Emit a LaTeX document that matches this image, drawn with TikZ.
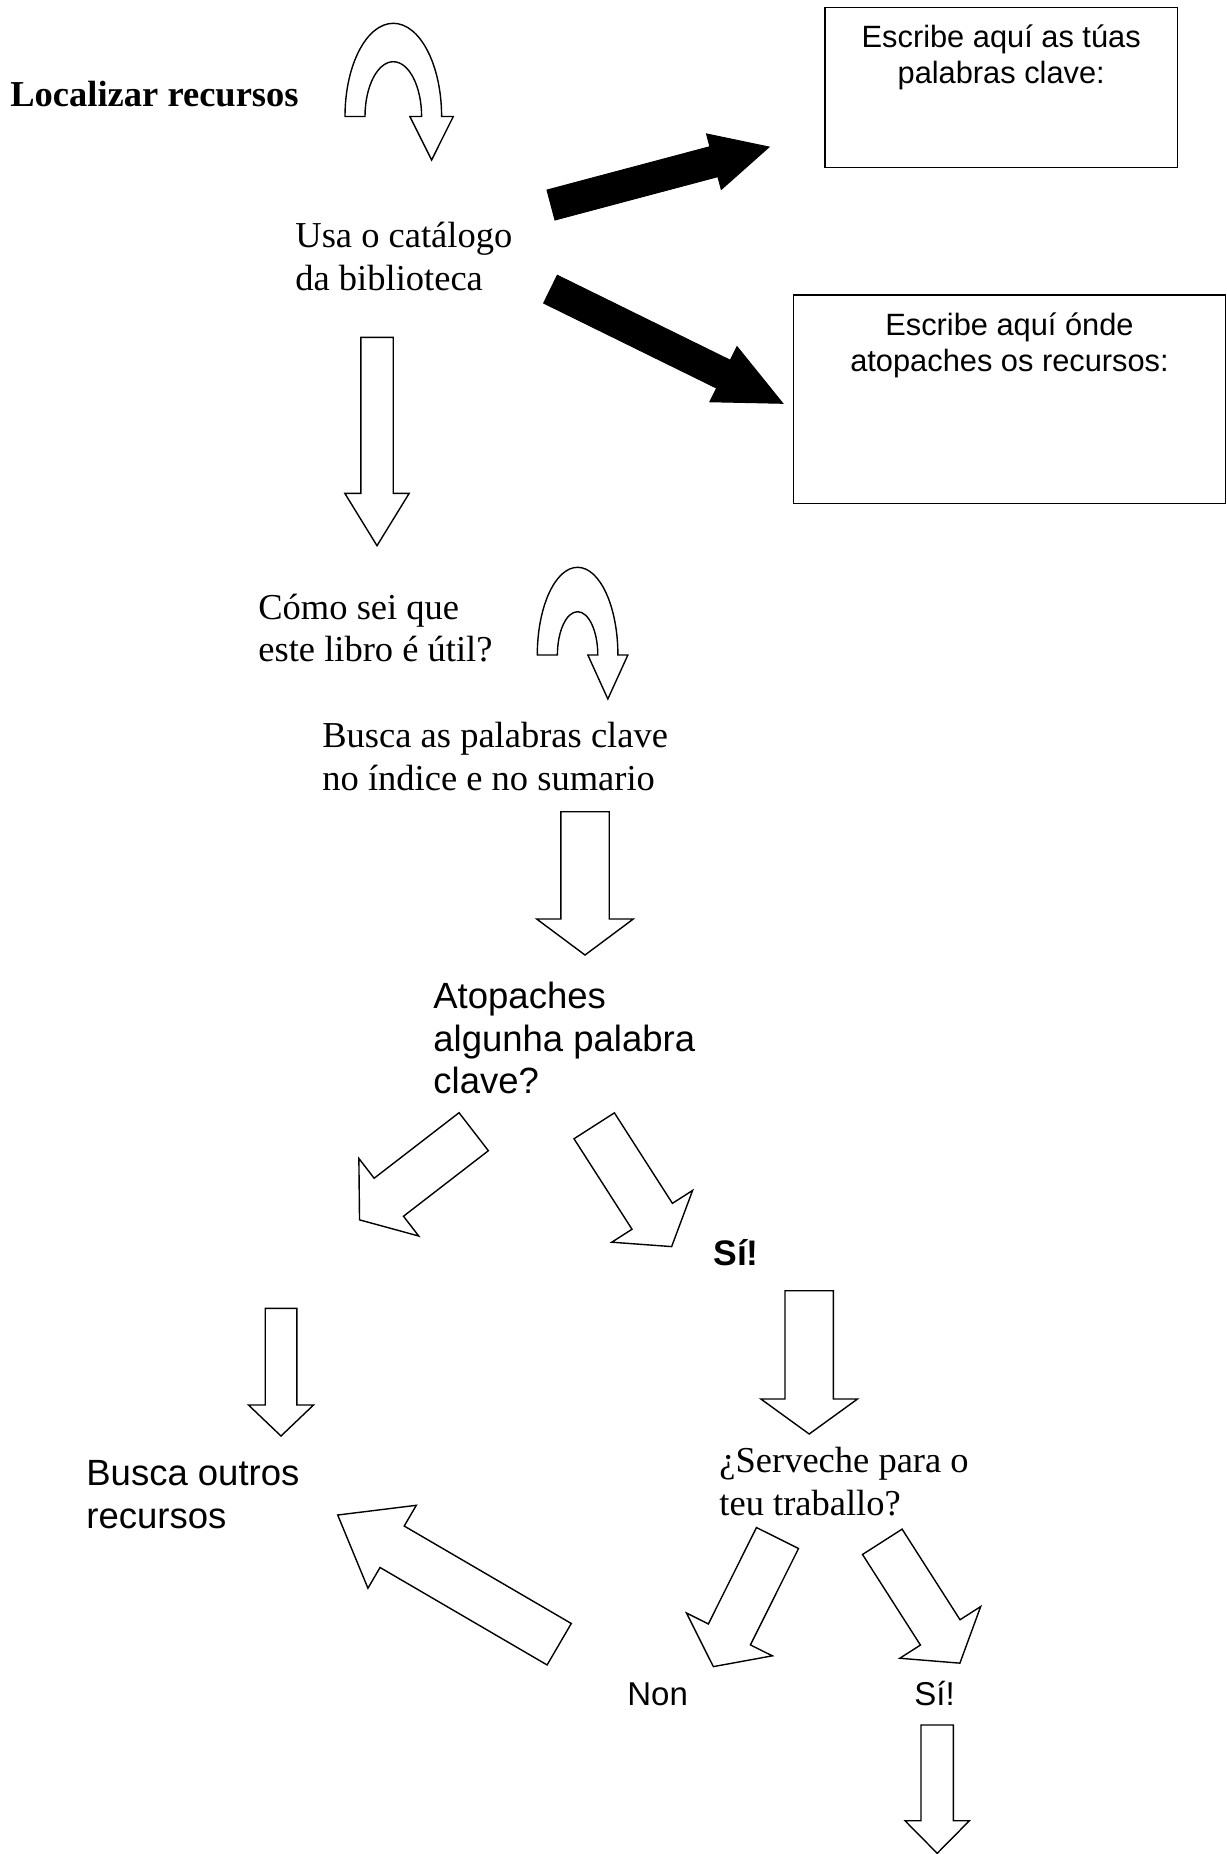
\documentclass[tikz,border=0pt]{standalone}
\usepackage{fontspec}
\setmainfont{Liberation Serif}
\newfontfamily\arialfont{Liberation Sans}
\usetikzlibrary{calc}

\tikzset{
  hollow/.style={draw=black,line width=0.7pt,fill=white,line join=miter},
  blackarrow/.style={draw=black,fill=black,line width=0.5pt,line join=miter},
  writebox/.style={draw=black,line width=0.7pt,inner sep=0pt},
  txtserif/.style={font=\fontsize{18.25}{21.25}\selectfont,inner sep=0pt},
  txtbold/.style={font=\fontsize{18.25}{21.25}\selectfont\bfseries,inner sep=0pt},
  txtsans/.style={font=\arialfont\fontsize{18.25}{21.25}\selectfont,inner sep=0pt},
  txtsansbold/.style={font=\arialfont\bfseries\fontsize{17.75}{21}\selectfont,inner sep=0pt},
  boxtext/.style={font=\arialfont\fontsize{15.4}{17.9}\selectfont,inner sep=0pt,align=center},
  answer/.style={font=\arialfont\fontsize{16.5}{19}\selectfont,inner sep=0pt},
}

% block arrow: [style]{tail}{tip}{shaft half width}{head half width}{head length}
\newcommand\blockarrow[6][hollow]{%
  \path let \p1=($(#3)-(#2)$) in \pgfextra{%
    \pgfmathsetmacro\arrang{atan2(\y1,\x1)}%
    \pgfmathsetmacro\arrlen{2*veclen(\x1,\y1)}%
    \global\let\arrang\arrang\global\let\arrlen\arrlen};
  \draw[#1,shift={(#2)},rotate=\arrang,x=0.5pt,y=0.5pt]
    (0,-#4) -- ({\arrlen-#6},-#4) -- ({\arrlen-#6},-#5) -- (\arrlen,0)
    -- ({\arrlen-#6},#5) -- ({\arrlen-#6},#4) -- (0,#4) -- cycle;}

% u-turn arrow: {cx}{base}{outer r}{inner r}{outer h}{inner h}{head half width}{tip y}
\newcommand\uturn[8]{%
  \draw[hollow] ({#1-#3},#2) arc[start angle=180,end angle=0,x radius=#3*0.5pt,y radius=#5*0.5pt]
    -- ({#1+(#3+#4)/2+#7},#2) -- ({#1+(#3+#4)/2},#8) -- ({#1+(#3+#4)/2-#7},#2)
    -- ({#1+#4},#2) arc[start angle=0,end angle=180,x radius=#4*0.5pt,y radius=#6*0.5pt] -- cycle;}

\begin{document}
\begin{tikzpicture}[x=0.5pt,y=-0.5pt]
  \useasboundingbox (0,0) rectangle (1227,1854);

  % texts (base of a multi-line node = its last line)
  \node[txtbold,anchor=base west] (title) at (10,106) {Localizar recursos};
  \node[txtserif,align=left,anchor=base west] (catalog) at (295,290) {Usa o catálogo\\da biblioteca};
  \node[txtserif,align=left,anchor=base west] (useful) at (258,661.7) {Cómo sei que\\este libro é útil?};
  \node[txtserif,align=left,anchor=base west] (index) at (322,790) {Busca as palabras clave\\no índice e no sumario};
  \node[txtsans,align=left,anchor=base west] (found) at (433,1093.5) {Atopaches\\algunha palabra\\clave?};
  \node[txtsansbold,anchor=base west] (yes1) at (713,1265) {Sí!};
  \node[txtsans,align=left,anchor=base west] (other) at (86,1528.3) {Busca outros\\recursos};
  \node[txtserif,align=left,anchor=base west] (serve) at (719,1515) {¿Serveche para o\\teu traballo?};
  \node[answer,anchor=base west] (no) at (627,1705) {Non};
  \node[answer,anchor=base west] (yes2) at (914,1705) {Sí!};

  % boxes to write in
  \node[writebox,minimum width=176.15pt,minimum height=80pt] (keybox) at (1001.2,87.3) {};
  \node[boxtext,anchor=base] (keytext) at (1001.2,83.3) {Escribe aquí as túas\\palabras clave:};
  \node[writebox,minimum width=216.2pt,minimum height=104.15pt] (placebox) at (1009.5,399.2) {};
  \node[boxtext,anchor=base] (placetext) at (1009.5,371.7) {Escribe aquí ónde\\atopaches os recursos:};

  % black arrows to the boxes
  \coordinate (k1) at (551,205);      \coordinate (k2) at (769,147);
  \coordinate (p1) at (550.5,289.2);  \coordinate (p2) at (782.7,403.3);
  \blockarrow[blackarrow]{k1}{k2}{15.5}{28.7}{57}
  \blockarrow[blackarrow]{p1}{p2}{15.5}{30.7}{66}

  % u-turns
  \uturn{393.3}{116.5}{48.3}{28.3}{93.2}{54.8}{21.7}{160}
  \uturn{577.6}{655}{40.3}{20.2}{87.7}{43.3}{20}{699}

  % hollow arrows
  \coordinate (v1a) at (377,337.3);    \coordinate (v1b) at (377,545.7);
  \coordinate (v2a) at (585,811.7);    \coordinate (v2b) at (585,955);
  \coordinate (d1a) at (473.7,1131.7); \coordinate (d1b) at (359.3,1220);
  \coordinate (d2a) at (594.2,1125.8); \coordinate (d2b) at (671.7,1246.7);
  \coordinate (v3a) at (809.2,1290.7); \coordinate (v3b) at (809.2,1434);
  \coordinate (v4a) at (281,1308.3);   \coordinate (v4b) at (281,1436);
  \coordinate (bka) at (559.2,1644.2); \coordinate (bkb) at (337.7,1515);
  \coordinate (n1a) at (777.5,1538);   \coordinate (n1b) at (713.3,1666.7);
  \coordinate (s1a) at (882.3,1541.8); \coordinate (s1b) at (960,1663.3);
  \coordinate (v5a) at (937.2,1725);   \coordinate (v5b) at (937.2,1853.3);

  \blockarrow{v1a}{v1b}{16.2}{32.2}{52.4}
  \blockarrow{v2a}{v2b}{24.2}{48.3}{36}
  \blockarrow{d1a}{d1b}{24}{49}{37}
  \blockarrow{d2a}{d2b}{24}{48}{36}
  \blockarrow{v3a}{v3b}{24.2}{48.3}{35}
  \blockarrow{v4a}{v4b}{15.8}{32.5}{31}
  \blockarrow{bka}{bkb}{24}{48}{63}
  \blockarrow{n1a}{n1b}{23.5}{48}{36}
  \blockarrow{s1a}{s1b}{23.5}{48}{36.5}
  \blockarrow{v5a}{v5b}{16.2}{32.2}{32.6}
\end{tikzpicture}
\end{document}
